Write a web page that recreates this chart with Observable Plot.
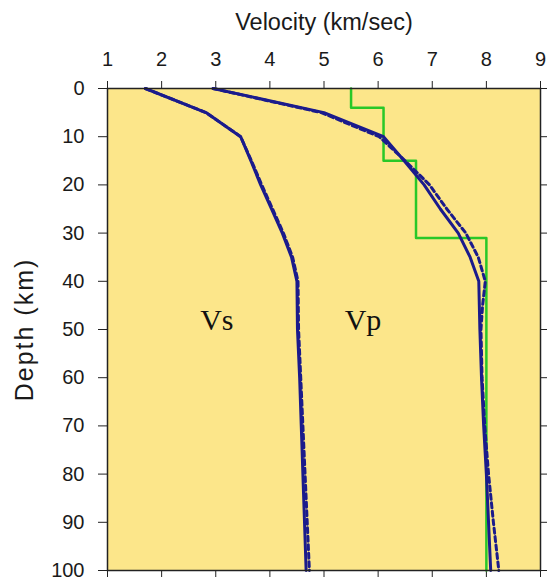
<!DOCTYPE html>
<html><head><meta charset="utf-8">
<script src="https://cdn.jsdelivr.net/npm/d3@7"></script>
<script src="https://cdn.jsdelivr.net/npm/@observablehq/plot@0.6"></script>
<style>body{margin:0;background:#fff} svg{display:block}</style>
</head><body><div id="chart"></div>
<script>
// Axis ticks
const xTicks = [1, 2, 3, 4, 5, 6, 7, 8, 9];
const yTicks = [0, 10, 20, 30, 40, 50, 60, 70, 80, 90, 100];

// Vs profiles (km/sec) vs depth (km)
const vsDepth  = [0, 5, 10, 15, 20, 25, 30, 35, 40, 50, 60, 70, 80, 90, 100];
const vsSolid  = [1.7, 2.82, 3.46, 3.65, 3.83, 4.03, 4.23, 4.4, 4.5, 4.51, 4.55, 4.58, 4.61, 4.64, 4.67];
const vsDashed = [1.7, 2.82, 3.46, 3.66, 3.85, 4.05, 4.25, 4.42, 4.52, 4.53, 4.57, 4.61, 4.65, 4.69, 4.73];

// Vp profiles
const vpDepth  = [0, 5, 10, 15, 20, 25, 30, 35, 40, 45, 50, 60, 70, 80, 90, 100];
const vpSolid  = [2.95, 5.0, 6.1, 6.48, 6.85, 7.15, 7.48, 7.7, 7.86, 7.87, 7.88, 7.91, 7.95, 8.0, 8.04, 8.08];
const vpDashed = [2.95, 4.95, 6.02, 6.5, 6.95, 7.27, 7.62, 7.85, 7.98, 7.93, 7.9, 7.92, 7.97, 8.04, 8.13, 8.23];

// Layered reference Vp model (green)
const layerTop = [0, 4, 15, 31];
const layerBottom = [4, 15, 31, 100];
const layerVp = [5.5, 6.1, 6.7, 8.0];

// In-plot labels
const labelNames = ["Vs", "Vp"];
const labelVel = [3.02, 5.72];
const labelDepth = [50, 50];

const series = (depths, vals) => depths.map((d, i) => ({d, v: vals[i]}));
const green = layerVp.flatMap((v, i) => [{d: layerTop[i], v}, {d: layerBottom[i], v}]);
const labels = labelNames.map((t, i) => ({t, v: labelVel[i], d: labelDepth[i]}));

const blue = "#1b1b8c";
const chart = Plot.plot({
  width: 547, height: 583,
  marginTop: 88, marginLeft: 107, marginRight: 7, marginBottom: 13,
  style: {fontFamily: "'Liberation Sans', Arial, sans-serif", background: "#fff", color: "#1a1a1a", overflow: "visible"},
  x: {domain: [1, 9]},
  y: {domain: [0, 100], reverse: true},
  marks: [
    Plot.frame({fill: "#FCE68A"}),
    Plot.axisX({anchor: "top", ticks: xTicks, tickSize: 8, tickPadding: 15, fontSize: 20, label: null, stroke: "#222"}),
    Plot.axisX({anchor: "bottom", ticks: xTicks, tickSize: 7, tickFormat: () => "", label: null, stroke: "#222"}),
    Plot.axisY({anchor: "left", ticks: yTicks, tickSize: 9, tickPadding: 14, fontSize: 20, label: null, stroke: "#222"}),
    Plot.axisY({anchor: "right", ticks: yTicks, tickSize: 7, tickFormat: () => "", label: null, stroke: "#222"}),
    Plot.line(green, {x: "v", y: "d", stroke: "#28c828", strokeWidth: 2.5}),
    Plot.line(series(vsDepth, vsSolid), {x: "v", y: "d", stroke: blue, strokeWidth: 3}),
    Plot.line(series(vpDepth, vpSolid), {x: "v", y: "d", stroke: blue, strokeWidth: 3}),
    Plot.line(series(vsDepth, vsDashed), {x: "v", y: "d", stroke: blue, strokeWidth: 3, strokeDasharray: "5,3.5"}),
    Plot.line(series(vpDepth, vpDashed), {x: "v", y: "d", stroke: blue, strokeWidth: 3, strokeDasharray: "5,3.5"}),
    Plot.frame({stroke: "#222", strokeWidth: 1.5}),
    Plot.text(labels, {x: "v", y: "d", text: "t", fontFamily: "'Liberation Serif', 'Times New Roman', serif", fontSize: 30, lineAnchor: "bottom", fill: "#111"}),
    Plot.text(["Velocity (km/sec)"], {frameAnchor: "top", textAnchor: "middle", dy: -59, lineAnchor: "bottom", fontSize: 23.5, fill: "#1a1a1a"}),
    Plot.text(["Depth (km)"], {frameAnchor: "left", textAnchor: "middle", dx: -75, rotate: -90, lineAnchor: "bottom", fontSize: 25, fill: "#1a1a1a"})
  ]
});
d3.select(chart).selectAll("text").filter(function() { return this.textContent === "Depth (km)"; }).style("letter-spacing", "2px");
document.getElementById("chart").append(chart);
</script>
</body></html>
